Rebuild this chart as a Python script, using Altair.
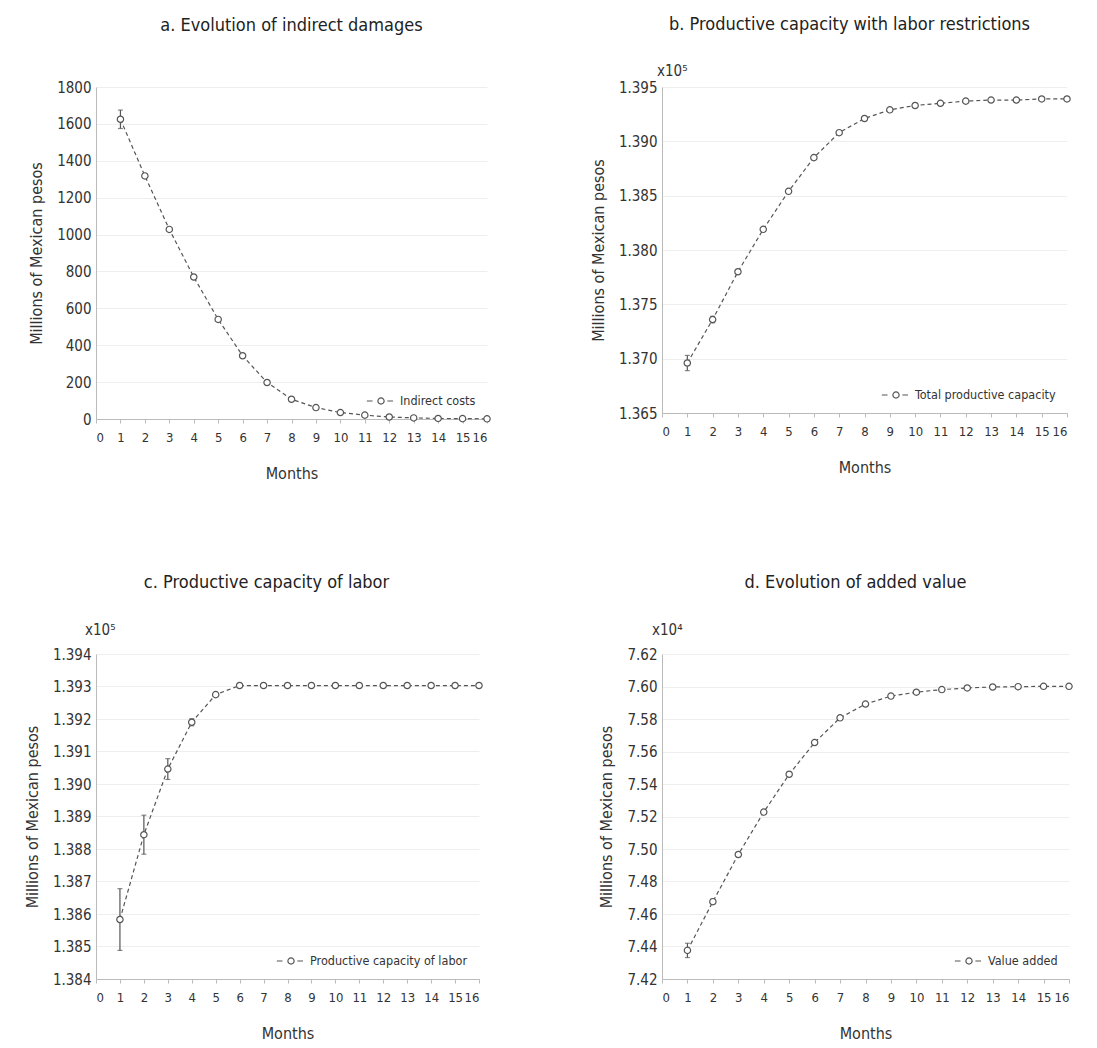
import altair as alt
import pandas as pd

months = list(range(1, 17))

a_vals = [1625, 1318, 1028, 770, 540, 343, 198, 107, 62, 35, 21, 11, 6, 3, 2, 1]
a_err = [50, 12, 8, 8, 6, 5, 3, 0, 0, 0, 0, 0, 0, 0, 0, 0]

b_vals = [1.3696, 1.3736, 1.3780, 1.3819, 1.3854, 1.3885, 1.3908, 1.3921,
          1.3929, 1.3933, 1.3935, 1.3937, 1.3938, 1.3938, 1.3939, 1.3939]
b_err = [0.0007, 0.0003, 0.0001, 0.0001, 0.00005, 0, 0, 0, 0, 0, 0, 0, 0, 0, 0, 0]

c_vals = [1.38583, 1.38844, 1.39046, 1.39190, 1.39275, 1.39303, 1.39303, 1.39303,
          1.39303, 1.39303, 1.39303, 1.39303, 1.39303, 1.39303, 1.39303, 1.39303]
c_err = [0.00095, 0.0006, 0.00032, 0.00011, 0.00004, 0, 0, 0, 0, 0, 0, 0, 0, 0, 0, 0]

d_vals = [7.4376, 7.4676, 7.4966, 7.5227, 7.5460, 7.5655, 7.5807, 7.5892,
          7.5941, 7.5965, 7.5981, 7.5991, 7.5997, 7.5999, 7.6001, 7.6001]
d_err = [0.0044, 0.0016, 0.0008, 0.0006, 0.0005, 0.0003, 0, 0, 0, 0, 0, 0, 0, 0, 0, 0]

x_ticks = list(range(0, 17))
a_ticks = list(range(0, 1801, 200))
b_ticks = [1.365, 1.370, 1.375, 1.380, 1.385, 1.390, 1.395]
c_ticks = [1.384, 1.385, 1.386, 1.387, 1.388, 1.389, 1.390, 1.391, 1.392, 1.393, 1.394]
d_ticks = [7.42, 7.44, 7.46, 7.48, 7.50, 7.52, 7.54, 7.56, 7.58, 7.60, 7.62]

FONT = "DejaVu Sans Condensed, Liberation Sans Narrow, sans-serif"
INK = "#555555"
LEG_SYMBOL = ("M-1,0L-0.6,0M0.22,0A0.22,0.22,0,1,1,-0.22,0A0.22,0.22,0,1,1,0.22,0"
              "M0.45,0L0.85,0")


def panel(title, vals, err, series, ticks, fmt, exp_text, exp_xy, width, height,
          title_dx, title_offset):
    df = pd.DataFrame({
        "month": months,
        "value": vals,
        "lo": [v - e for v, e in zip(vals, err)],
        "hi": [v + e for v, e in zip(vals, err)],
        "err": err,
        "series": [series] * len(months),
    })
    xaxis = alt.Axis(values=x_ticks, title="Months", grid=False, format="d",
                     labelOverlap=False)
    xscale = alt.Scale(domain=[0, 16], nice=False)
    yscale = alt.Scale(domain=[ticks[0], ticks[-1]], nice=False, zero=False)
    yaxis = alt.Axis(values=ticks, format=fmt, title="Millions of Mexican pesos",
                     labelOverlap=False)
    base = alt.Chart(df)
    line = base.mark_line(strokeDash=[4, 3], color=INK, strokeWidth=1.2).encode(
        x=alt.X("month:Q", scale=xscale, axis=xaxis),
        y=alt.Y("value:Q", scale=yscale, axis=yaxis))
    bars = base.transform_filter("datum.err > 0").mark_errorbar(
        ticks=True, color=INK, thickness=1.2).encode(
        x=alt.X("month:Q", scale=xscale, axis=xaxis),
        y=alt.Y("lo:Q", scale=yscale, axis=yaxis), y2="hi:Q")
    pts = base.mark_point(size=40, fill="white", filled=False, strokeWidth=1.2, opacity=1).encode(
        x=alt.X("month:Q", scale=xscale, axis=xaxis),
        y=alt.Y("value:Q", scale=yscale, axis=yaxis),
        color=alt.Color("series:N", scale=alt.Scale(range=[INK]),
                        legend=alt.Legend(title=None, orient="bottom-right",
                                          symbolType=LEG_SYMBOL, symbolSize=800,
                                          symbolStrokeWidth=1.2, symbolFillColor="white",
                                          labelFont=FONT, labelFontSize=12.5, labelColor="#333",
                                          labelLimit=400, offset=9, padding=2)))
    layers = [line, bars, pts]
    if exp_text:
        ex = alt.Chart(pd.DataFrame({"t": [exp_text]})).mark_text(
            font=FONT, fontSize=15, color="#333", align="left", baseline="middle").encode(
            text="t:N", x=alt.value(exp_xy[0]), y=alt.value(exp_xy[1]))
        layers.append(ex)
    return alt.layer(*layers).properties(
        width=width, height=height,
        title=alt.TitleParams(title, font=FONT, fontSize=18, fontWeight="normal",
                              color="#222", anchor="middle", dx=title_dx,
                              offset=title_offset),
    ).resolve_scale(color="independent")


pa = panel("a. Evolution of indirect damages", a_vals, a_err, "Indirect costs",
           a_ticks, "d", None, None, 391, 332, 0, 45)
pb = panel("b. Productive capacity with labor restrictions", b_vals, b_err,
           "Total productive capacity", b_ticks, ".3f", "x10⁵", (-5, -16), 405, 326, -15, 30)
pc = panel("c. Productive capacity of labor", c_vals, c_err, "Productive capacity of labor",
           c_ticks, ".3f", "x10⁵", (-11, -24), 383, 325, -21, 31)
pd_ = panel("d. Evolution of added value", d_vals, d_err, "Value added",
            d_ticks, ".2f", "x10⁴", (-10, -24), 407, 325, -10, 31)

chart = alt.concat(pa, pb, pc, pd_, columns=2,
                   spacing={"row": 93, "column": 97}).resolve_scale(
    color="independent").properties(
    padding={"left": 24, "top": 16, "right": 5, "bottom": 5}
).configure_view(stroke=None).configure_axis(
    labelFont=FONT, titleFont=FONT, labelFontSize=15, titleFontSize=16,
    titleFontWeight="normal", labelColor="#333", titleColor="#333",
    domainColor="#bbbbbb", tickColor="#bbbbbb", tickSize=4,
    gridColor="#eeeeee", labelOverlap=False,
).configure_axisY(ticks=False, titlePadding=12, labelPadding=5).configure_axisX(
    titlePadding=21, labelPadding=8, labelFontSize=13)

chart.save("out.html", embed_options={"renderer": "svg", "actions": False})
